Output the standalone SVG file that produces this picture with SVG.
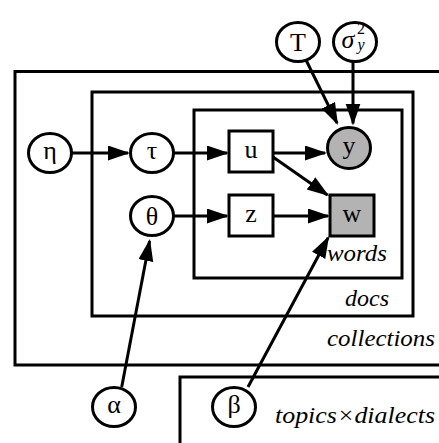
<svg xmlns="http://www.w3.org/2000/svg" width="439" height="443" viewBox="0 0 439 443">
  <style>
    .plate { fill: none; stroke: #000; stroke-width: 3; }
    .node { fill: #fff; stroke: #000; stroke-width: 3; }
    .obs { fill: #b3b3b3; }
    .edge { fill: none; stroke: #000; stroke-width: 3; marker-end: url(#arrow); }
    .sym { font-size: 26px; text-anchor: middle; }
    .idx { font-size: 16px; text-anchor: middle; }
    .plabel { font-style: italic; font-size: 24px; text-anchor: end; }
  </style>
  <defs>
    <marker id="arrow" markerUnits="userSpaceOnUse" markerWidth="24" markerHeight="16" refX="20" refY="7.5" orient="auto">
      <path d="M0,0 L22,7.5 L0,15 Z" fill="#000"/>
    </marker>
  </defs>

  <g font-family="Liberation Serif, Times New Roman, serif" fill="#000">
  <!-- plates -->
  <g id="plates">
    <rect id="plate-collections" class="plate" x="15" y="71.5" width="440" height="293.5"/>
    <rect id="plate-docs" class="plate" x="92" y="92" width="321" height="224"/>
    <rect id="plate-words" class="plate" x="194" y="110" width="208" height="168"/>
    <rect id="plate-topics" class="plate" x="180" y="377" width="300" height="100"/>
    <text class="plabel" x="387" y="261" textLength="60" lengthAdjust="spacingAndGlyphs">words</text>
    <text class="plabel" x="389" y="306" textLength="44" lengthAdjust="spacingAndGlyphs">docs</text>
    <text class="plabel" x="435" y="346" textLength="108" lengthAdjust="spacingAndGlyphs">collections</text>
    <text class="plabel" x="435" y="423" textLength="160" lengthAdjust="spacingAndGlyphs">topics×dialects</text>
  </g>

  <!-- connectors -->
  <g id="edges">
    <path class="edge" d="M72,153 L128,153"/>
    <path class="edge" d="M174,153 L227,153"/>
    <path class="edge" d="M273,153 L325,153"/>
    <path class="edge" d="M273,157 L327.4,194.9"/>
    <path class="edge" d="M174,216 L227,216"/>
    <path class="edge" d="M273,216 L328,216"/>
    <path class="edge" d="M306,60 L337.1,123.2"/>
    <path class="edge" d="M353,62 L353,123.5"/>
    <path class="edge" d="M121.7,387 L149.6,241"/>
    <path class="edge" d="M248,387 L328.1,237.8"/>
  </g>

  <!-- nodes -->
  <g id="node-T">
    <ellipse class="node" cx="298" cy="42" rx="21.5" ry="19.5"/>
    <text class="sym" x="298" y="50.5">T</text>
  </g>
  <g id="node-sigma">
    <ellipse class="node" cx="355" cy="42" rx="21.5" ry="19.5"/>
    <text class="sym" x="348" y="48" font-size="29" font-style="italic">σ</text>
    <text class="idx" x="361" y="34">2</text>
    <text class="idx" x="361" y="50" font-style="italic">y</text>
  </g>
  <g id="node-eta">
    <ellipse class="node" cx="50" cy="153" rx="21.5" ry="19.5"/>
    <text class="sym" x="50" y="159">η</text>
  </g>
  <g id="node-tau">
    <ellipse class="node" cx="152" cy="153" rx="21.5" ry="19.5"/>
    <text class="sym" x="152" y="159">τ</text>
  </g>
  <g id="node-theta">
    <ellipse class="node" cx="152" cy="216" rx="21.5" ry="19.5"/>
    <text class="sym" x="152" y="225">θ</text>
  </g>
  <g id="node-u">
    <rect class="node" x="229" y="131" width="44" height="41"/>
    <text class="sym" x="251" y="158">u</text>
  </g>
  <g id="node-y">
    <ellipse class="node obs" cx="349" cy="148" rx="21.5" ry="20.5"/>
    <text class="sym" x="349" y="154">y</text>
  </g>
  <g id="node-z">
    <rect class="node" x="229" y="195" width="44" height="41"/>
    <text class="sym" x="251" y="222">z</text>
  </g>
  <g id="node-w">
    <rect class="node obs" x="330" y="195" width="44" height="41"/>
    <text class="sym" x="352" y="222">w</text>
  </g>
  <g id="node-alpha">
    <ellipse class="node" cx="114" cy="407" rx="21.5" ry="19.5"/>
    <text class="sym" x="114" y="413">α</text>
  </g>
  <g id="node-beta">
    <ellipse class="node" cx="234" cy="407" rx="21.5" ry="19.5"/>
    <text class="sym" x="234" y="413">β</text>
  </g>
  </g>
</svg>
